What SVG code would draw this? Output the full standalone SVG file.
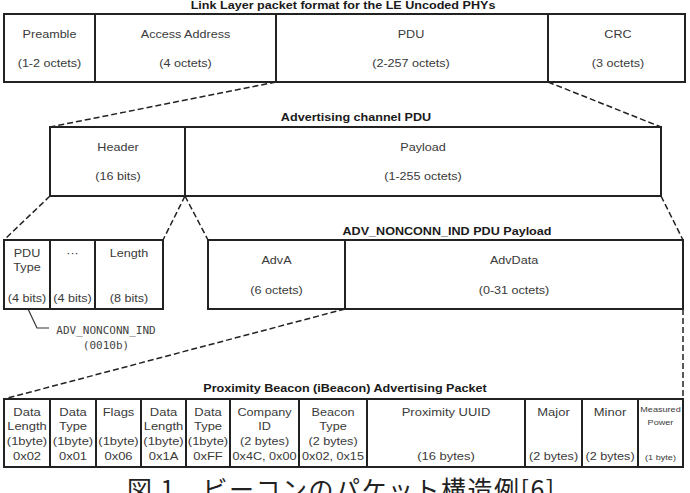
<svg xmlns="http://www.w3.org/2000/svg" width="690" height="493" viewBox="0 0 690 493">
<style>
.bx{fill:#fff;stroke:#222;stroke-width:2}
.t{font-family:"Liberation Sans",Arial,sans-serif;font-size:10.5px;fill:#3a3a3a;text-anchor:middle}
.s{font-family:"Liberation Sans",Arial,sans-serif;font-size:11px;fill:#3a3a3a;text-anchor:middle}
.xs{font-family:"Liberation Sans",Arial,sans-serif;font-size:7px;fill:#3a3a3a;text-anchor:middle}
.h{font-family:"Liberation Sans",Arial,sans-serif;font-size:10.5px;font-weight:bold;fill:#1a1a1a;text-anchor:middle}
.m{font-family:"DejaVu Sans Mono","Liberation Mono",monospace;font-size:11px;fill:#444;text-anchor:middle}
.cap{font-family:"Noto Sans CJK JP","Noto Sans CJK SC",sans-serif;font-size:25px;letter-spacing:1.5px;fill:#222}
.d{fill:none;stroke:#222;stroke-width:1.5;stroke-dasharray:6 3}
.l{fill:none;stroke:#333;stroke-width:1.2}
</style>
<rect width="690" height="493" fill="#fff"/>

<!-- titles -->
<text class="h" transform="matrix(1.2 0 0 1 343 9)">Link Layer packet format for the LE Uncoded PHYs</text>
<text class="h" transform="matrix(1.2 0 0 1 356 121)">Advertising channel PDU</text>
<text class="h" transform="matrix(1.2 0 0 1 447 235)">ADV_NONCONN_IND PDU Payload</text>
<text class="h" transform="matrix(1.2 0 0 1 345 392)">Proximity Beacon (iBeacon) Advertising Packet</text>

<!-- connectors -->
<g id="connectors">
<line class="d" x1="276" y1="82" x2="50" y2="127"/>
<line class="d" x1="548" y1="82" x2="661" y2="127"/>
<line class="d" x1="50" y1="196" x2="4" y2="240"/>
<line class="d" x1="185" y1="196" x2="163" y2="240"/>
<line class="d" x1="185" y1="196" x2="208" y2="240"/>
<line class="d" x1="661" y1="196" x2="683" y2="240"/>
<line class="d" x1="345" y1="309" x2="4" y2="399"/>
<line class="d" x1="683" y1="309" x2="683" y2="399"/>
<polyline class="l" points="28,309 37,328 49,328"/>
</g>

<!-- Link layer packet -->
<g id="preamble"><rect class="bx" x="4" y="14" width="91" height="68"/>
<text class="t" transform="matrix(1.2 0 0 1 49.5 37.5)">Preamble</text>
<text class="t" transform="matrix(1.2 0 0 1 49.5 67)">(1-2 octets)</text></g>
<g id="access"><rect class="bx" x="95" y="14" width="181" height="68"/>
<text class="t" transform="matrix(1.2 0 0 1 185.5 37.5)">Access Address</text>
<text class="t" transform="matrix(1.2 0 0 1 185.5 67)">(4 octets)</text></g>
<g id="pdu"><rect class="bx" x="276" y="14" width="272" height="68"/>
<text class="t" transform="matrix(1.2 0 0 1 411 37.5)">PDU</text>
<text class="t" transform="matrix(1.2 0 0 1 411 67)">(2-257 octets)</text></g>
<g id="crc"><rect class="bx" x="548" y="14" width="137" height="68"/>
<text class="t" transform="matrix(1.2 0 0 1 618 37.5)">CRC</text>
<text class="t" transform="matrix(1.2 0 0 1 618 67)">(3 octets)</text></g>

<!-- Advertising channel PDU -->
<g id="header"><rect class="bx" x="50" y="127" width="135" height="69"/>
<text class="t" transform="matrix(1.2 0 0 1 118 151)">Header</text>
<text class="t" transform="matrix(1.2 0 0 1 118 180)">(16 bits)</text></g>
<g id="payload"><rect class="bx" x="185" y="127" width="476" height="69"/>
<text class="t" transform="matrix(1.2 0 0 1 423 151)">Payload</text>
<text class="t" transform="matrix(1.2 0 0 1 423 180)">(1-255 octets)</text></g>

<!-- Header fields -->
<g id="pdutype"><rect class="bx" x="4" y="240" width="46" height="69"/>
<text class="t" transform="matrix(1.2 0 0 1 27 257)">PDU</text>
<text class="t" transform="matrix(1.2 0 0 1 27 271)">Type</text>
<text class="t" transform="matrix(1.2 0 0 1 27 302)">(4 bits)</text></g>
<g id="rfu"><rect class="bx" x="50" y="240" width="45" height="69"/>
<text class="t" transform="matrix(1.2 0 0 1 72.5 257)">···</text>
<text class="t" transform="matrix(1.2 0 0 1 72.5 302)">(4 bits)</text></g>
<g id="length"><rect class="bx" x="95" y="240" width="68" height="69"/>
<text class="t" transform="matrix(1.2 0 0 1 129 257)">Length</text>
<text class="t" transform="matrix(1.2 0 0 1 129 302)">(8 bits)</text></g>
<g id="pdutype-note">
<text class="m" x="106" y="333.5">ADV_NONCONN_IND</text>
<text class="m" x="106" y="349">(0010b)</text></g>

<!-- Payload fields -->
<g id="adva"><rect class="bx" x="208" y="240" width="137" height="69"/>
<text class="t" transform="matrix(1.2 0 0 1 276.5 264)">AdvA</text>
<text class="t" transform="matrix(1.2 0 0 1 276.5 294)">(6 octets)</text></g>
<g id="advdata"><rect class="bx" x="345" y="240" width="338" height="69"/>
<text class="t" transform="matrix(1.2 0 0 1 514 264)">AdvData</text>
<text class="t" transform="matrix(1.2 0 0 1 514 294)">(0-31 octets)</text></g>

<!-- iBeacon packet -->
<g id="b1"><rect class="bx" x="4" y="399" width="46" height="68"/>
<text class="s" transform="matrix(1.18 0 0 1 27 415.5)">Data</text>
<text class="s" transform="matrix(1.18 0 0 1 27 430)">Length</text>
<text class="s" transform="matrix(1.18 0 0 1 27 445)">(1byte)</text>
<text class="s" transform="matrix(1.18 0 0 1 27 459.5)">0x02</text></g>
<g id="b2"><rect class="bx" x="50" y="399" width="46" height="68"/>
<text class="s" transform="matrix(1.18 0 0 1 73 415.5)">Data</text>
<text class="s" transform="matrix(1.18 0 0 1 73 430)">Type</text>
<text class="s" transform="matrix(1.18 0 0 1 73 445)">(1byte)</text>
<text class="s" transform="matrix(1.18 0 0 1 73 459.5)">0x01</text></g>
<g id="b3"><rect class="bx" x="96" y="399" width="45" height="68"/>
<text class="s" transform="matrix(1.18 0 0 1 118.5 415.5)">Flags</text>
<text class="s" transform="matrix(1.18 0 0 1 118.5 445)">(1byte)</text>
<text class="s" transform="matrix(1.18 0 0 1 118.5 459.5)">0x06</text></g>
<g id="b4"><rect class="bx" x="141" y="399" width="45" height="68"/>
<text class="s" transform="matrix(1.18 0 0 1 163.5 415.5)">Data</text>
<text class="s" transform="matrix(1.18 0 0 1 163.5 430)">Length</text>
<text class="s" transform="matrix(1.18 0 0 1 163.5 445)">(1byte)</text>
<text class="s" transform="matrix(1.18 0 0 1 163.5 459.5)">0x1A</text></g>
<g id="b5"><rect class="bx" x="186" y="399" width="44" height="68"/>
<text class="s" transform="matrix(1.18 0 0 1 208 415.5)">Data</text>
<text class="s" transform="matrix(1.18 0 0 1 208 430)">Type</text>
<text class="s" transform="matrix(1.18 0 0 1 208 445)">(1byte)</text>
<text class="s" transform="matrix(1.18 0 0 1 208 459.5)">0xFF</text></g>
<g id="b6"><rect class="bx" x="230" y="399" width="69" height="68"/>
<text class="s" transform="matrix(1.15 0 0 1 264.5 415.5)">Company</text>
<text class="s" transform="matrix(1.15 0 0 1 264.5 430)">ID</text>
<text class="s" transform="matrix(1.15 0 0 1 264.5 445)">(2 bytes)</text>
<text class="s" transform="matrix(1.15 0 0 1 264.5 459.5)">0x4C, 0x00</text></g>
<g id="b7"><rect class="bx" x="299" y="399" width="68" height="68"/>
<text class="s" transform="matrix(1.15 0 0 1 333 415.5)">Beacon</text>
<text class="s" transform="matrix(1.15 0 0 1 333 430)">Type</text>
<text class="s" transform="matrix(1.15 0 0 1 333 445)">(2 bytes)</text>
<text class="s" transform="matrix(1.15 0 0 1 333 459.5)">0x02, 0x15</text></g>
<g id="b8"><rect class="bx" x="367" y="399" width="158" height="68"/>
<text class="s" transform="matrix(1.18 0 0 1 446 415.5)">Proximity UUID</text>
<text class="s" transform="matrix(1.18 0 0 1 446 459.5)">(16 bytes)</text></g>
<g id="b9"><rect class="bx" x="525" y="399" width="57" height="68"/>
<text class="s" transform="matrix(1.18 0 0 1 553.5 415.5)">Major</text>
<text class="s" transform="matrix(1.15 0 0 1 553.5 459.5)">(2 bytes)</text></g>
<g id="b10"><rect class="bx" x="582" y="399" width="56" height="68"/>
<text class="s" transform="matrix(1.18 0 0 1 610 415.5)">Minor</text>
<text class="s" transform="matrix(1.15 0 0 1 610 459.5)">(2 bytes)</text></g>
<g id="b11"><rect class="bx" x="638" y="399" width="45" height="68"/>
<text class="xs" transform="matrix(1.3 0 0 1 660.5 411.5)">Measured</text>
<text class="xs" transform="matrix(1.3 0 0 1 660.5 424.5)">Power</text>
<text class="xs" transform="matrix(1.3 0 0 1 660.5 460)">(1 byte)</text></g>

<text class="cap" x="127" y="499">図 1　ビーコンのパケット構造例[6]</text>
</svg>
